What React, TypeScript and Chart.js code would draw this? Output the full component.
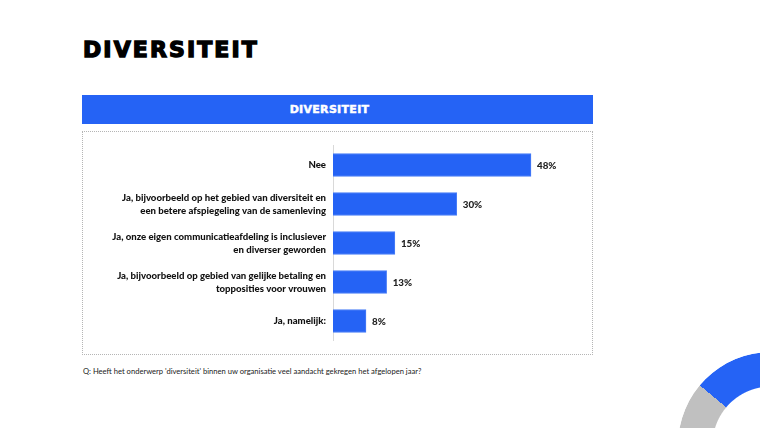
import React, { useEffect, useRef } from "react";
import { Chart, registerables } from "chart.js";

Chart.register(...registerables);

const categories: string[][] = [
  ["Nee"],
  ["Ja, bijvoorbeeld op het gebied van diversiteit en", "een betere afspiegeling van de samenleving"],
  ["Ja, onze eigen communicatieafdeling is inclusiever", "en diverser geworden"],
  ["Ja, bijvoorbeeld op gebied van gelijke betaling en", "topposities voor vrouwen"],
  ["Ja, namelijk:"],
];
const values: number[] = [48, 30, 15, 13, 8];
const titleText = "DIVERSITEIT";
const bannerText = "DIVERSITEIT";
const footnote = "Q: Heeft het onderwerp 'diversiteit' binnen uw organisatie veel aandacht gekregen het afgelopen jaar?";

const BLUE = "#2563F5";
const FONT = "Lato, 'Open Sans', sans-serif";
const HEAVY = "'DejaVu Sans', 'Liberation Sans', Arial, sans-serif";

const valueLabels = {
  id: "valueLabels",
  afterDatasetsDraw(chart: any) {
    const ctx = chart.ctx;
    const meta = chart.getDatasetMeta(0);
    ctx.save();
    ctx.font = `900 9.8px ${FONT}`;
    ctx.fillStyle = "#222";
    ctx.textAlign = "left";
    ctx.textBaseline = "middle";
    meta.data.forEach((bar: any, i: number) => {
      ctx.fillText(values[i] + "%", bar.x + 6, bar.y + 1);
    });
    ctx.restore();
  },
};

export default function App() {
  const ref = useRef<HTMLCanvasElement | null>(null);
  useEffect(() => {
    document.body.style.margin = "0";
    const chart = new Chart(ref.current as HTMLCanvasElement, {
      type: "bar",
      data: {
        labels: categories,
        datasets: [
          {
            data: values,
            backgroundColor: BLUE,
            borderColor: "#4a7ef7",
            borderWidth: 1,
            barThickness: 23,
          },
        ],
      },
      options: {
        indexAxis: "y",
        animation: false,
        responsive: false,
        maintainAspectRatio: false,
        layout: { padding: { top: 11, bottom: 6, left: 0, right: 11.5 } },
        plugins: { legend: { display: false }, tooltip: { enabled: false } },
        scales: {
          x: { display: false, min: 0, max: 60 },
          y: {
            afterFit(scale: any) {
              scale.width = 250;
            },
            grid: { display: false, drawTicks: false },
            border: { display: true, color: "#d9d9d9", width: 1 },
            ticks: {
              padding: 7,
              color: "#111",
              font: { family: FONT, weight: "900", size: 9.6, lineHeight: 1.35 },
            },
          },
        },
      },
      plugins: [valueLabels],
    } as any);
    return () => chart.destroy();
  }, []);

  return (
    <div
      style={{
        position: "fixed",
        left: 0,
        top: 0,
        width: 760,
        height: 428,
        overflow: "hidden",
        background: "#fff",
        fontFamily: FONT,
      }}
    >
      <div
        style={{
          position: "absolute",
          left: 83,
          top: 36,
          fontSize: 22,
          fontWeight: 700,
          fontFamily: HEAVY,
          color: "#000",
          lineHeight: "28px",
          letterSpacing: 2.1,
          WebkitTextStroke: "1.4px #000",
          whiteSpace: "nowrap",
        } as any}
      >
        {titleText}
      </div>
      <div
        style={{
          position: "absolute",
          left: 82,
          top: 95,
          width: 511,
          height: 29,
          background: BLUE,
          color: "#fff",
          fontWeight: 700,
          fontFamily: HEAVY,
          fontSize: 11,
          lineHeight: "29px",
          textAlign: "center",
          letterSpacing: 0.3,
          WebkitTextStroke: "0.5px #fff",
        } as any}
      >
        <span style={{ position: "relative", left: -8 }}>{bannerText}</span>
      </div>
      <div
        style={{
          position: "absolute",
          left: 82,
          top: 131,
          width: 511,
          height: 224,
          boxSizing: "border-box",
          border: "1px dotted #b5b5b5",
        }}
      >
        <canvas ref={ref} width={509} height={222} style={{ display: "block" }} />
      </div>
      <div
        style={{
          position: "absolute",
          left: 83,
          top: 366,
          fontSize: 7.6,
          color: "#222",
          lineHeight: "10px",
          whiteSpace: "nowrap",
        }}
      >
        {footnote}
      </div>
      <div
        style={{
          position: "absolute",
          left: 678,
          top: 352,
          width: 186,
          height: 186,
          borderRadius: "50%",
          background: `conic-gradient(from 0deg, ${BLUE} 0deg 225deg, #c0c0c0 225deg 310deg, ${BLUE} 310deg 360deg)`,
          WebkitMask: "radial-gradient(circle, transparent 58px, #000 59px)",
          mask: "radial-gradient(circle, transparent 58px, #000 59px)",
        } as any}
      />
    </div>
  );
}
